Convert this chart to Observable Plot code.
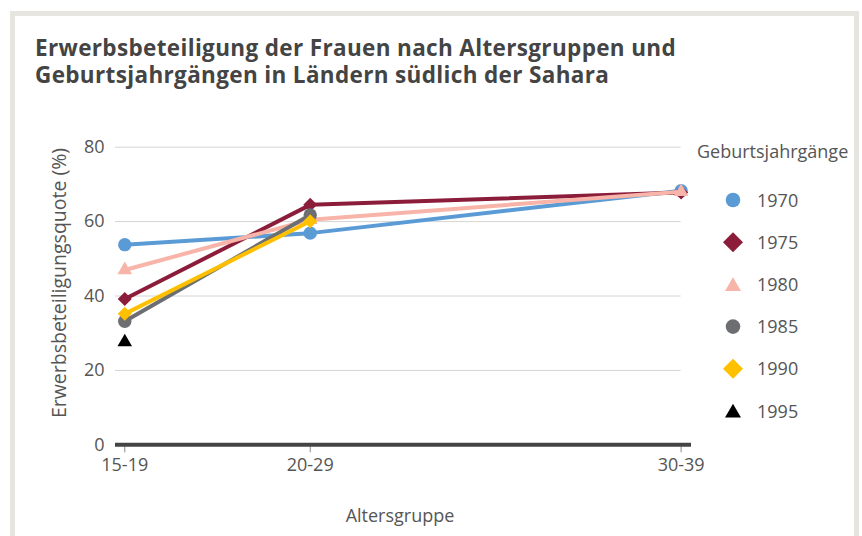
<!DOCTYPE html>
<html><head><meta charset="utf-8">
<script src="https://cdn.jsdelivr.net/npm/d3@7"></script>
<script src="https://cdn.jsdelivr.net/npm/@observablehq/plot@0.6"></script>
<style>
body{margin:0;background:#fff;font-family:"Open Sans",sans-serif;}
#wrap{position:relative;width:862px;height:536px;overflow:hidden;background:#fff;}
#frame{position:absolute;left:10px;top:11px;width:839px;height:600px;border:5px solid #e6e5e0;}
#title{position:absolute;left:35px;top:35px;font-weight:bold;font-size:22.5px;line-height:26.5px;letter-spacing:0.35px;color:#444;white-space:nowrap;}
#chart{position:absolute;left:0;top:0;}
#ylab{position:absolute;left:58px;top:283px;transform:translate(-50%,-50%) rotate(-90deg);white-space:nowrap;font-size:19.5px;color:#555;}
#xlab{position:absolute;left:400px;top:515px;transform:translate(-50%,-50%);white-space:nowrap;font-size:18px;color:#555;}
#legend{position:absolute;left:0;top:0;}
</style></head><body>
<div id="wrap">
<div id="frame"></div>
<div id="chart"></div>
<div id="title">Erwerbsbeteiligung der Frauen nach Altersgruppen und<br>Geburtsjahrgängen in Ländern südlich der Sahara</div>
<div id="ylab">Erwerbsbeteiligungsquote (%)</div>
<div id="xlab">Altersgruppe</div>
<svg id="legend" width="862" height="536"></svg>
</div>
<script>
const ageGroups = ["15-19", "20-29", "30-39"];
const ageStart = [15, 20, 30];
const cohorts = ["1970", "1975", "1980", "1985", "1990", "1995"];
const cohortColors = ["#5b9bd5", "#8b1d3b", "#f8b4a8", "#6d6e71", "#ffc000", "#000000"];
const cohortSymbols = ["circle", "diamond2", "triangle", "circle", "diamond2", "triangle"];
const v1970 = [53.8, 56.9, 68.3];
const v1975 = [39.2, 64.5, 67.8];
const v1980 = [47.0, 60.5, 68.0];
const v1985 = [33.2, 61.8, null];
const v1990 = [35.2, 60.1, null];
const v1995 = [27.6, null, null];
const yTicks = [0, 20, 40, 60, 80];
const legendTitle = "Geburtsjahrgänge";

const series = [v1970, v1975, v1980, v1985, v1990, v1995];
const rows = [];
series.forEach((vals, i) => vals.forEach((v, j) => {
  if (v != null) rows.push({cohort: cohorts[i], age: ageStart[j], value: v});
}));
const symR = {circle: 6.7, diamond2: 6.3, triangle: 5.4};

const marks = [
  Plot.ruleY(yTicks.filter(d => d > 0), {x1: 14.75, x2: 30, stroke: "#d4d4d4", strokeWidth: 1}),
  Plot.axisY({ticks: yTicks, tickSize: 0, tickPadding: 11, label: null, fill: "#555"}),
  Plot.axisX({ticks: ageStart, tickSize: 8, tickPadding: 5, label: null, stroke: "#888", fill: "#555",
    tickFormat: d => ageGroups[ageStart.indexOf(d)]}),
  Plot.ruleY([0], {stroke: "#444", strokeWidth: 4})
];
cohorts.forEach((c, i) => {
  const d = rows.filter(r => r.cohort === c);
  marks.push(Plot.line(d, {x: "age", y: "value", stroke: cohortColors[i], strokeWidth: 4}));
  marks.push(Plot.dot(d, {x: "age", y: "value", symbol: () => cohortSymbols[i], fill: cohortColors[i], stroke: "none", r: symR[cohortSymbols[i]]}));
});

const chart = Plot.plot({
  width: 862, height: 536,
  marginLeft: 115, marginRight: 171, marginTop: 146.7, marginBottom: 91.7,
  x: {domain: [14.75, 30.28]},
  y: {domain: [0, 80]},
  symbol: {type: "identity"},
  style: {fontFamily: "'Open Sans', sans-serif", fontSize: "18px", background: "transparent", color: "#555"},
  marks
});
document.getElementById("chart").appendChild(chart);

// legend
const lg = d3.select("#legend");
lg.append("text").attr("x", 697).attr("y", 158).attr("font-size", 18).attr("fill", "#555")
  .attr("font-family", "'Open Sans', sans-serif").text(legendTitle);
const symMap = {circle: d3.symbolCircle, diamond2: d3.symbolDiamond2, triangle: d3.symbolTriangle};
const legSize = {circle: Math.PI * 7.3 * 7.3, diamond2: 255, triangle: 110};
cohorts.forEach((c, i) => {
  const y = 200 + i * 42.2;
  const s = cohortSymbols[i];
  lg.append("path").attr("transform", `translate(733,${y + (s === "triangle" ? 2 : 0)})`)
    .attr("d", d3.symbol(symMap[s], legSize[s])()).attr("fill", cohortColors[i]);
  lg.append("text").attr("x", 757).attr("y", y + 6.5).attr("font-size", 18).attr("fill", "#555")
    .attr("font-family", "'Open Sans', sans-serif").text(c);
});
</script>
</body></html>
